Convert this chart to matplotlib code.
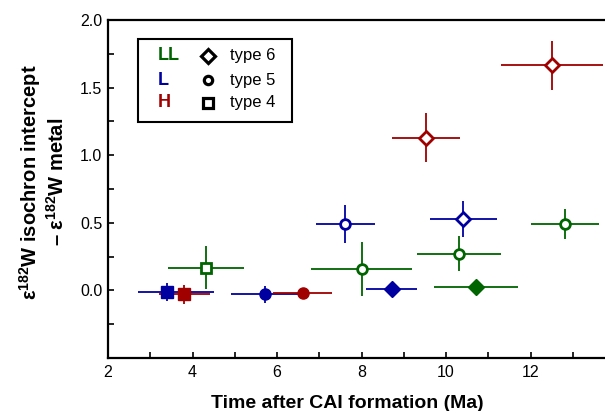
import matplotlib
matplotlib.use("Agg")
import matplotlib.pyplot as plt
from matplotlib.patches import Rectangle
from matplotlib.ticker import MultipleLocator, FormatStrFormatter

plt.rcParams['font.family'] = ['Liberation Sans', 'DejaVu Sans']
plt.rcParams['mathtext.fontset'] = 'custom'
plt.rcParams['mathtext.bf'] = 'Liberation Sans:bold'
plt.rcParams['mathtext.rm'] = 'Liberation Sans'
plt.rcParams['mathtext.default'] = 'bf'

GREEN = '#006400'
BLUE = '#0000a0'
RED = '#a00000'

# LL chondrites
ll4_x, ll4_y, ll4_xerr, ll4_yerr = [4.32], [0.167], [0.9], [0.16]
ll5_x = [8.0, 10.31, 12.82]
ll5_y = [0.16, 0.27, 0.49]
ll5_xerr = [1.2, 1.0, 0.8]
ll5_yerr = [0.2, 0.13, 0.11]
ll6f_x, ll6f_y, ll6f_xerr, ll6f_yerr = [10.71], [0.027], [1.0], [0.02]

# L chondrites
l4f_x, l4f_y = [3.4], [-0.01]
l4f_xerr = [[0.7], [1.1]]
l4f_yerr = [0.065]
l5f_x, l5f_y, l5f_xerr, l5f_yerr = [5.71], [-0.03], [0.8], [0.065]
l5_x, l5_y, l5_xerr, l5_yerr = [7.61], [0.49], [0.7], [0.14]
l6_x, l6_y, l6_xerr, l6_yerr = [10.41], [0.528], [0.8], [0.13]
l6f_x, l6f_y, l6f_xerr, l6f_yerr = [8.71], [0.01], [0.6], [0.02]

# H chondrites
h4f_x, h4f_y, h4f_xerr, h4f_yerr = [3.81], [-0.027], [0.6], [0.07]
h5f_x, h5f_y, h5f_xerr, h5f_yerr = [6.61], [-0.018], [0.7], [0.03]
h6_x = [9.52, 12.51]
h6_y = [1.13, 1.664]
h6_xerr = [0.8, 1.2]
h6_yerr = [0.18, 0.18]

groups = ['LL', 'L', 'H']
group_colors = [GREEN, BLUE, RED]
types = ['type 6', 'type 5', 'type 4']
type_markers = ['D', 'o', 's']

fig = plt.figure(figsize=(6.05, 4.11), dpi=100)
ax = fig.add_axes([108 / 605, 53 / 411, 497 / 605, 338 / 411])


def pts(x, y, xerr, yerr, color, marker, filled):
  ms = {'D': 7.0, 'o': 7.0, 's': 7.8}[marker]
  if filled:
    ms += 1.0
  ax.errorbar(x, y, xerr=xerr, yerr=yerr, fmt='none', ecolor=color,
              elinewidth=1.3, capsize=0, zorder=2)
  ax.plot(x, y, linestyle='none', marker=marker, ms=ms,
          mfc=color if filled else 'white', mec=color,
          mew=1.0 if filled else 2.0, zorder=3)


pts(l4f_x, l4f_y, l4f_xerr, l4f_yerr, BLUE, 's', True)
pts(h4f_x, h4f_y, h4f_xerr, h4f_yerr, RED, 's', True)
pts(ll4_x, ll4_y, ll4_xerr, ll4_yerr, GREEN, 's', False)
pts(l5f_x, l5f_y, l5f_xerr, l5f_yerr, BLUE, 'o', True)
pts(h5f_x, h5f_y, h5f_xerr, h5f_yerr, RED, 'o', True)
pts(ll5_x, ll5_y, ll5_xerr, ll5_yerr, GREEN, 'o', False)
pts(l5_x, l5_y, l5_xerr, l5_yerr, BLUE, 'o', False)
pts(l6_x, l6_y, l6_xerr, l6_yerr, BLUE, 'D', False)
pts(l6f_x, l6f_y, l6f_xerr, l6f_yerr, BLUE, 'D', True)
pts(ll6f_x, ll6f_y, ll6f_xerr, ll6f_yerr, GREEN, 'D', True)
pts(h6_x, h6_y, h6_xerr, h6_yerr, RED, 'D', False)

ax.set_xlim(2, 13.76)
ax.set_ylim(-0.5, 2.0)
ax.xaxis.set_major_locator(MultipleLocator(2))
ax.xaxis.set_minor_locator(MultipleLocator(1))
ax.yaxis.set_minor_locator(MultipleLocator(0.25))
ax.set_yticks([0.0, 0.5, 1.0, 1.5, 2.0])
ax.yaxis.set_major_formatter(FormatStrFormatter('%.1f'))
ax.tick_params(which='both', direction='in', length=4, width=1.2,
               top=False, right=False, labelsize=11.5)
ax.tick_params(axis='x', pad=5)
ax.tick_params(axis='y', pad=4)
for s in ['left', 'bottom', 'top']:
  ax.spines[s].set_linewidth(1.6)
ax.spines['right'].set_visible(False)

ax.set_xlabel('Time after CAI formation (Ma)', fontsize=14, fontweight='bold')
ax.xaxis.set_label_coords(0.481, -0.108)
ax.set_ylabel('ε$^{182}$W isochron intercept\n– ε$^{182}$W metal',
              fontsize=14.5, fontweight='bold', linespacing=1.2)
ax.yaxis.set_label_coords(-0.08, 0.521)

# key box: group names in colour, marker shapes for petrologic types
ax.add_patch(Rectangle((0.0604, 0.6982), 0.3098, 0.2456, transform=ax.transAxes,
                       facecolor='white', edgecolor='black', lw=1.5, zorder=5))
rows = [0.8935, 0.8216, 0.7553]
for ry, g, c, t, m in zip(rows, groups, group_colors, types, type_markers):
  ax.text(0.1006, ry, g, color=c, fontsize=13, fontweight='bold',
          ha='left', va='center', transform=ax.transAxes, zorder=6)
  ax.plot([0.2012], [ry], marker=m, ms=6 if m == 'o' else 7.5 if m == 'D' else 7,
          mfc='white', mec='black', mew=2.3, linestyle='none',
          transform=ax.transAxes, zorder=6, clip_on=False)
  ax.text(0.2455, ry, t, color='black', fontsize=12,
          ha='left', va='center', transform=ax.transAxes, zorder=6)

fig.savefig('out.png', dpi=100)
